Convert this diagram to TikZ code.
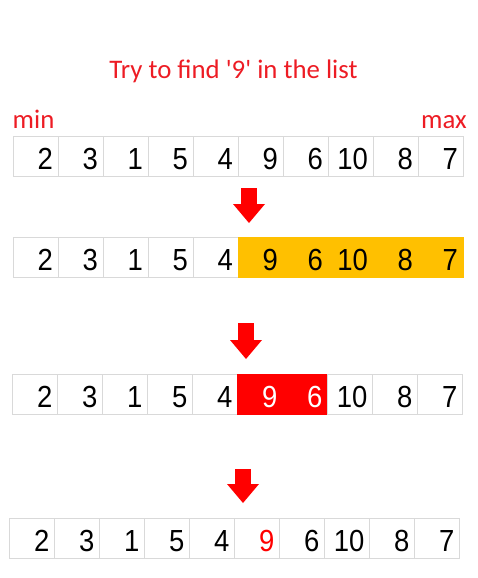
\documentclass[tikz,border=0pt]{standalone}
\usepackage{fontspec}
\setmainfont{Carlito}
\newfontfamily\numfont[FakeStretch=0.9]{Liberation Sans}
\usetikzlibrary{arrows.meta,positioning}
\definecolor{gridgray}{RGB}{217,217,217}
\definecolor{gold}{RGB}{255,192,0}
\definecolor{titlered}{RGB}{237,28,36}
\begin{document}
\begin{tikzpicture}[x=1pt,y=-1pt,
    cell/.style={draw=gridgray,line width=1pt,minimum width=45pt,minimum height=40pt,
                 text width=35pt,inner xsep=5pt,inner ysep=0pt,outer sep=0pt,align=right,
                 text height=27pt,text depth=0pt,anchor=north west,
                 font=\numfont\fontsize{30.5pt}{30.5pt}\selectfont},
    half/.style={cell,fill=gold,draw=gold},
    hit/.style={cell,fill=red,draw=red,text=white},
    found/.style={cell,text=red},
    lbl/.style={text=titlered,inner sep=0pt,font=\fontsize{26.8pt}{26.8pt}\selectfont},
    bigarrow/.style={draw=red,line width=16.6pt,
                     -{Triangle[length=19pt,width=32pt,line width=0pt,fill=red]}}]

 \useasboundingbox (0,0) rectangle (477,578);

 \node[lbl,anchor=base] (title) at (233.5,78) {Try to find \textquotesingle9\textquotesingle{} in the list};
 \node[lbl,anchor=base west] (min) at (12.5,128) {min};
 \node[lbl,anchor=base east] (max) at (467,128) {max};

 \foreach \v/\s [count=\i] in {2/cell,3/cell,1/cell,5/cell,4/cell,9/cell,6/cell,10/cell,8/cell,7/cell}
   \node[\s] (a\i) at ({13+45*(\i-1)},136) {\v};
 \foreach \v/\s [count=\i] in {2/cell,3/cell,1/cell,5/cell,4/cell,9/half,6/half,10/half,8/half,7/half}
   \node[\s] (b\i) at ({13+45*(\i-1)},237) {\v};
 \foreach \v/\s [count=\i] in {2/cell,3/cell,1/cell,5/cell,4/cell,9/hit,6/hit,10/cell,8/cell,7/cell}
   \node[\s] (c\i) at ({12.5+45*(\i-1)},374) {\v};
 \foreach \v/\s [count=\i] in {2/cell,3/cell,1/cell,5/cell,4/cell,9/found,6/cell,10/cell,8/cell,7/cell}
   \node[\s] (d\i) at ({9.5+45*(\i-1)},518) {\v};

 \coordinate (p1) at (249,188);   \coordinate (q1) at (249,223);
 \coordinate (p2) at (246,323);   \coordinate (q2) at (246,359);
 \coordinate (p3) at (243,469);   \coordinate (q3) at (243,503);

 \draw[bigarrow] (p1) -- (q1);
 \draw[bigarrow] (p2) -- (q2);
 \draw[bigarrow] (p3) -- (q3);

\end{tikzpicture}
\end{document}
